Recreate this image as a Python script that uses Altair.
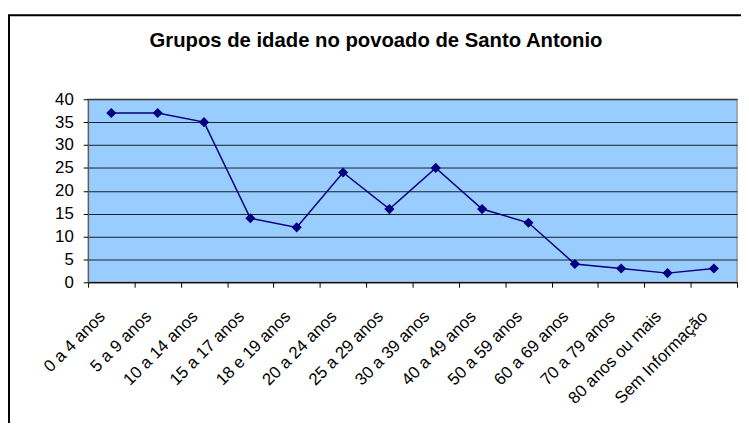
import altair as alt
import pandas as pd

categories = ["0 a 4 anos", "5 a 9 anos", "10 a 14 anos", "15 a 17 anos", "18 e 19 anos",
              "20 a 24 anos", "25 a 29 anos", "30 a 39 anos", "40 a 49 anos", "50 a 59 anos",
              "60 a 69 anos", "70 a 79 anos", "80 anos ou mais", "Sem Informação"]
values = [37, 37, 35, 14, 12, 24, 16, 25, 16, 13, 4, 3, 2, 3]
y_ticks = [0, 5, 10, 15, 20, 25, 30, 35, 40]
title_text = "Grupos de idade no povoado de Santo Antonio"

df = pd.DataFrame({"grupo": categories, "n": values})

x = alt.X("grupo:N", sort=categories, title=None,
          scale=alt.Scale(type="band", paddingInner=0, paddingOuter=0),
          axis=alt.Axis(labelAngle=-45, labelAlign="right", labelBaseline="top",
                        labelFontSize=17, labelFont="Liberation Sans", labelColor="black",
                        tickBand="extent", tickColor="black", tickSize=5,
                        domainColor="black", labelPadding=21, labelOffset=-15,
                        grid=False, labelOverlap=False))
y = alt.Y("n:Q", title=None,
          scale=alt.Scale(domain=[0, 40], nice=False),
          axis=alt.Axis(values=y_ticks, labelFontSize=17, labelFont="Liberation Sans",
                        labelColor="black", tickColor="black", tickSize=5,
                        domainColor="#555555", gridColor="black", gridWidth=1,
                        gridOpacity=0.85, labelPadding=10))

frame = alt.Chart(pd.DataFrame({"a": [0]})).mark_rect(
    fill=None, stroke="black", strokeWidth=2, clip=False
).encode(x=alt.value(-80), x2=alt.value(720), y=alt.value(-85), y2=alt.value(400))

title = alt.Chart(pd.DataFrame({"t": [title_text]})).mark_text(
    font="Liberation Sans", fontSize=20.5, fontWeight="bold", color="black",
    align="center", baseline="alphabetic", clip=False
).encode(text="t:N", x=alt.value(291), y=alt.value(-53))

line = alt.Chart(df).mark_line(color="#000080", strokeWidth=1.5).encode(x=x, y=y)
pts = alt.Chart(df).mark_point(shape="diamond", filled=True, color="#000080",
                               size=105, opacity=1).encode(x=x, y=y)

chart = alt.layer(line, pts, frame, title).properties(
    width=656, height=185,
    autosize=alt.AutoSizeParams(type="none"),
    padding={"left": 81, "top": 90, "right": 4, "bottom": 140},
).configure_view(fill="#99CCFF", stroke="#999999", strokeWidth=1.5)

chart.save("out.html", embed_options={"renderer": "svg", "actions": False})
